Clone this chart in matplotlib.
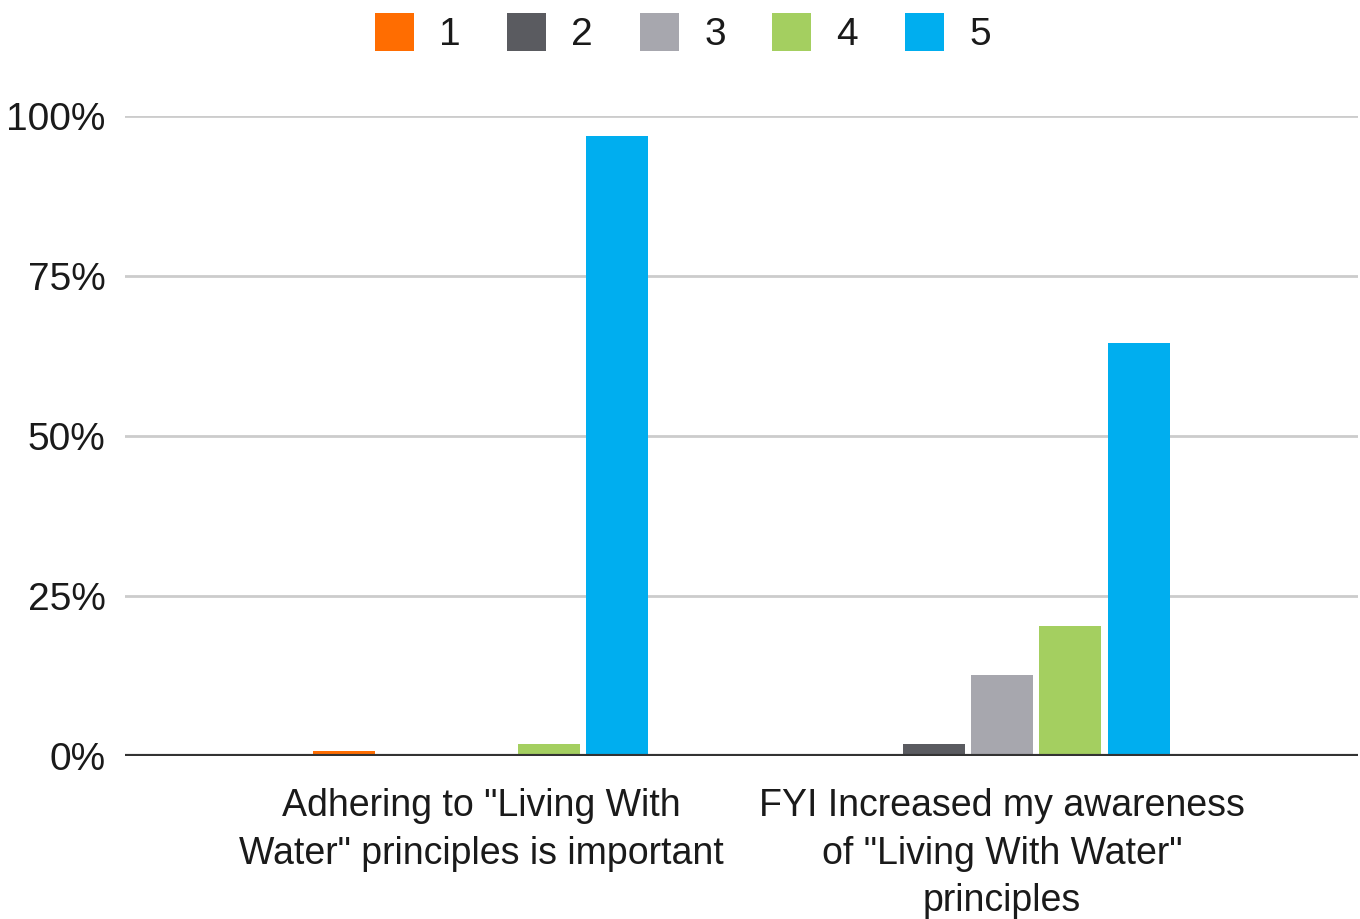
import numpy as np
import matplotlib.pyplot as plt
from matplotlib.ticker import FuncFormatter

plt.rcParams['font.family'] = ['Liberation Sans', 'DejaVu Sans']

categories = ['Adhering to "Living With\nWater" principles is important',
              'FYI Increased my awareness\nof "Living With Water"\nprinciples']
series = ['1', '2', '3', '4', '5']
colors = ['#ff6d01', '#5a5b60', '#a7a7ae', '#a4cf60', '#00aeef']
values = {
    '1': [0.8, 0.2],
    '2': [0.2, 1.9],
    '3': [0.0, 12.7],
    '4': [1.9, 20.3],
    '5': [96.9, 64.5],
}

x = np.arange(len(categories))
step = 0.131
width = 0.119

fig = plt.figure(figsize=(13.6, 9.19), dpi=100)
ax = fig.add_axes([125 / 1360, 1 - 756 / 919, 1233 / 1360, 640 / 919])

for i, s in enumerate(series):
    ax.bar(x + (i - 2) * step, values[s], width, color=colors[i], label=s, zorder=3)

ax.set_ylim(0, 100)
ax.set_xlim(-0.683, 1.683)
ax.set_yticks([0, 25, 50, 75, 100])
ax.yaxis.set_major_formatter(FuncFormatter(lambda v, p: f'{v:.0f}%'))
ax.grid(axis='y', color='#cccccc', linewidth=2, zorder=0)
ax.axhline(0, color='#333333', linewidth=3, zorder=4)
for sp in ax.spines.values():
    sp.set_visible(False)
ax.tick_params(axis='y', length=0, labelsize=28, pad=14, labelcolor='#1a1a1a')
ax.tick_params(axis='x', length=0, labelsize=27, pad=23, labelcolor='#1a1a1a')
ax.set_xticks(x)
ax.set_xticklabels(categories, linespacing=1.42)

leg = fig.legend(loc='center', bbox_to_anchor=(0.502, 1 - 33 / 919), ncol=5, frameon=False,
                 fontsize=28, handlelength=1.0, handleheight=1.15, handletextpad=0.65,
                 columnspacing=1.2, labelcolor='#1a1a1a', borderpad=0)

fig.savefig('out.png', dpi=100)
